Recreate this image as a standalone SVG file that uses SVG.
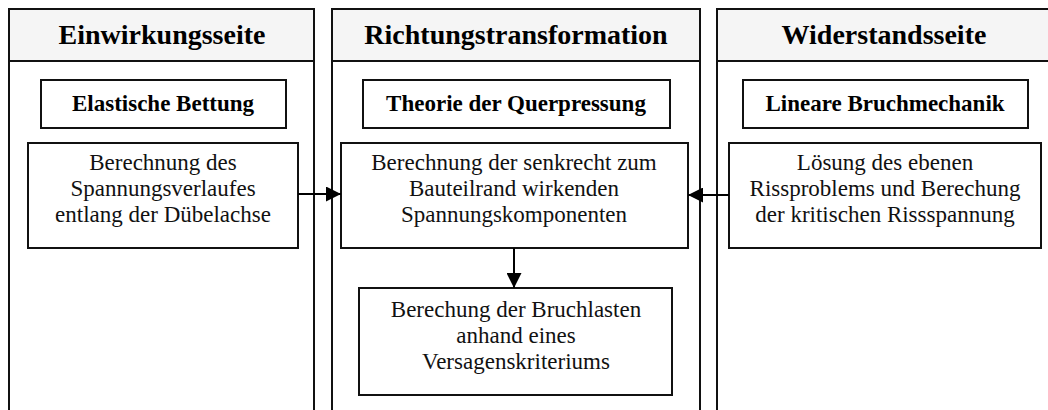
<svg xmlns="http://www.w3.org/2000/svg" width="1048" height="410" viewBox="0 0 1048 410">
<defs>
<marker id="ah" viewBox="0 0 10 10" refX="10" refY="5" markerWidth="15" markerHeight="15" markerUnits="userSpaceOnUse" orient="auto"><path d="M0,0 L10,5 L0,10 z" fill="#000"/></marker>
<style>
.lane{fill:#fff;stroke:#111;stroke-width:2}
.hdr{fill:#f5f5f5;stroke:#111;stroke-width:2}
.box{fill:#fff;stroke:#111;stroke-width:2}
.title{font-family:"Liberation Serif",serif;font-weight:bold;font-size:28px;fill:#000;text-anchor:middle}
.sub{font-family:"Liberation Serif",serif;font-weight:bold;font-size:23px;fill:#000;text-anchor:middle}
.txt{font-family:"Liberation Serif",serif;font-size:23px;fill:#111;text-anchor:middle}
.conn{stroke:#000;stroke-width:2;fill:none}
</style>
</defs>
<rect x="0" y="0" width="1048" height="410" fill="#fff"/>
<g id="lane1">
<path class="lane" d="M9,412 V9 H314 V412"/>
<rect class="hdr" x="9" y="9" width="305" height="52"/>
<text class="title" x="162" y="44">Einwirkungsseite</text>
</g>
<g id="lane2">
<path class="lane" d="M332,412 V9 H700 V412"/>
<rect class="hdr" x="332" y="9" width="368" height="52"/>
<text class="title" x="516" y="44">Richtungstransformation</text>
</g>
<g id="lane3">
<path class="lane" d="M717,412 V9 H1060"/>
<rect class="hdr" x="717" y="9" width="345" height="52"/>
<text class="title" x="884" y="44">Widerstandsseite</text>
</g>
<g id="sub1">
<rect class="box" x="41" y="80" width="245" height="48"/>
<text class="sub" x="163" y="111">Elastische Bettung</text>
</g>
<g id="sub2">
<rect class="box" x="363" y="80" width="307" height="48"/>
<text class="sub" x="516" y="111">Theorie der Querpressung</text>
</g>
<g id="sub3">
<rect class="box" x="743" y="80" width="285" height="48"/>
<text class="sub" x="885" y="111">Lineare Bruchmechanik</text>
</g>
<g id="box1">
<rect class="box" x="28" y="143" width="270" height="105"/>
<text class="txt" x="163" y="170">Berechnung des</text>
<text class="txt" x="163" y="196">Spannungsverlaufes</text>
<text class="txt" x="163" y="222">entlang der Dübelachse</text>
</g>
<g id="box2">
<rect class="box" x="341" y="143" width="347" height="105"/>
<text class="txt" x="514" y="170">Berechnung der senkrecht zum</text>
<text class="txt" x="514" y="196">Bauteilrand wirkenden</text>
<text class="txt" x="514" y="222">Spannungskomponenten</text>
</g>
<g id="box3">
<rect class="box" x="729" y="143" width="312" height="105"/>
<text class="txt" x="885" y="170">Lösung des ebenen</text>
<text class="txt" x="885" y="196">Rissproblems und Berechung</text>
<text class="txt" x="885" y="222">der kritischen Rissspannung</text>
</g>
<g id="box4">
<rect class="box" x="359" y="288" width="313" height="107"/>
<text class="txt" x="516" y="317">Berechung der Bruchlasten</text>
<text class="txt" x="516" y="343">anhand eines</text>
<text class="txt" x="516" y="369">Versagenskriteriums</text>
</g>
<g id="connectors">
<line class="conn" x1="298" y1="194" x2="341" y2="194" marker-end="url(#ah)"/>
<line class="conn" x1="729" y1="195" x2="688" y2="195" marker-end="url(#ah)"/>
<line class="conn" x1="514" y1="248" x2="514" y2="288" marker-end="url(#ah)"/>
</g>
</svg>
